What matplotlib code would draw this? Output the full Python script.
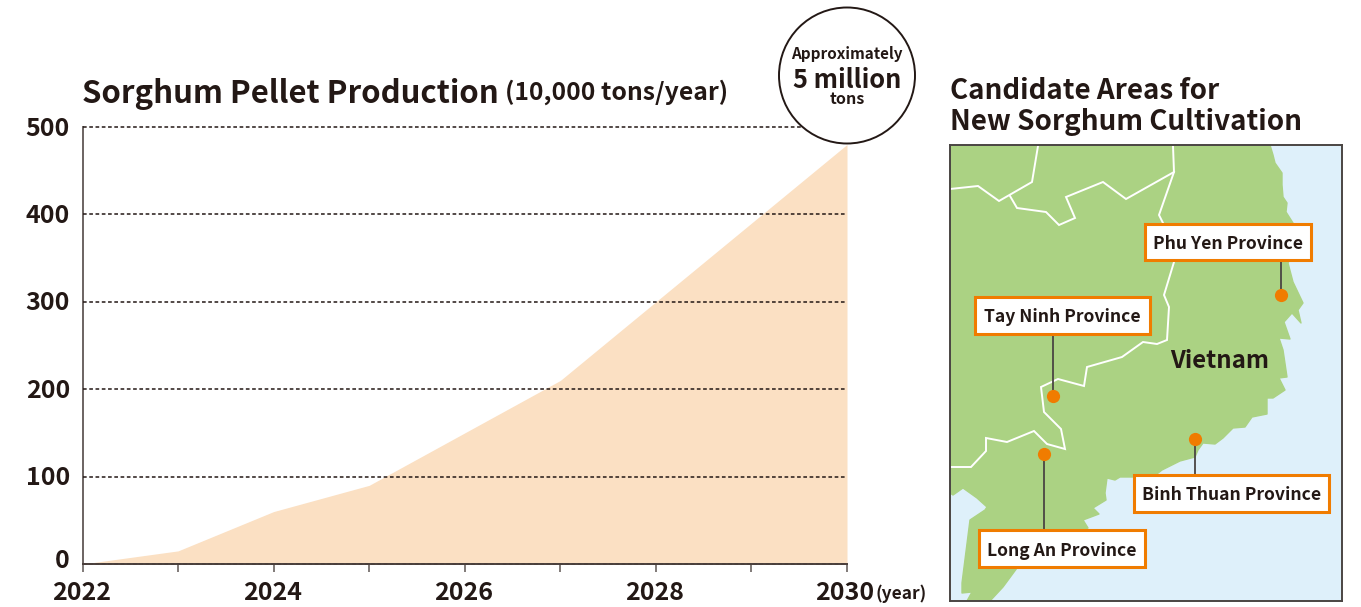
import matplotlib
matplotlib.use("Agg")
import matplotlib.pyplot as plt
from matplotlib.patches import Circle, Rectangle, Polygon
from matplotlib.transforms import ScaledTranslation

FONT = ['Noto Sans CJK JP', 'DejaVu Sans']
plt.rcParams['font.family'] = FONT
plt.rcParams['font.weight'] = 'bold'

INK = '#231815'
AREA = '#FBE0C3'
LAND = '#ABD283'
SEA = '#DEF0FA'
ORANGE = '#F07C00'

# Chart data
years = [2022, 2023, 2024, 2025, 2026, 2027, 2028, 2029, 2030]
production = [0, 15, 60, 90, 150, 210, 300, 390, 480]
y_ticks = [0, 100, 200, 300, 400, 500]
x_ticks = [2022, 2023, 2024, 2025, 2026, 2027, 2028, 2029, 2030]
x_labels = ['2022', '', '2024', '', '2026', '', '2028', '', '2030']

# Map outlines (map pixel coordinates)
land_outline = [
    (950, 145), (1270, 145), (1273, 155), (1275, 163), (1282, 173), (1282, 185), (1283, 197), (1287, 203), (1286, 212),
    (1293, 223), (1296, 245), (1288, 263), (1293, 282), (1303, 303), (1298, 310), (1301, 323),
    (1292, 313), (1284, 322), (1290, 339), (1279, 338), (1283, 350), (1287, 377), (1279, 378), (1285, 390),
    (1273, 398), (1267, 398), (1267, 414), (1252, 417), (1245, 427), (1233, 428), (1223, 438),
    (1215, 444), (1203, 443), (1198, 450), (1195, 457), (1180, 461), (1162, 470), (1153, 477), (1120, 477),
    (1115, 480), (1107, 478), (1105, 493), (1106, 500), (1093, 508), (1099, 514), (1083, 520),
    (1088, 528), (1060, 540), (1017, 568), (1003, 587), (990, 601), (967, 601), (972, 592),
    (962, 593), (962, 583), (970, 520), (985, 510), (987, 507), (977, 498), (963, 488),
    (953, 495), (950, 493),
]
border_a = [(950, 189), (978, 186), (999, 201), (1032, 182), (1038, 146)]
border_b = [(1010, 196), (1017, 208), (1046, 212), (1059, 225), (1075, 218), (1066, 197),
            (1103, 182), (1126, 199), (1174, 172), (1173, 146)]
border_c = [(1174, 172), (1159, 215), (1163, 223), (1174, 262), (1164, 295), (1169, 307),
            (1167, 340), (1157, 344), (1143, 342), (1122, 357), (1087, 367), (1084, 386),
            (1058, 379), (1041, 387), (1044, 412), (1061, 429), (1065, 449), (1047, 444),
            (1034, 431), (1007, 442), (986, 438), (986, 451), (971, 467), (950, 467)]
borders = [border_a, border_b, border_c]

# Provinces
provinces = ['Phu Yen Province', 'Tay Ninh Province', 'Binh Thuan Province', 'Long An Province']
dot_x = [1281, 1053, 1195, 1044]
dot_y = [295, 396, 439, 454]
box_left = [1144.5, 975, 1133.5, 979]
box_right = [1311, 1150, 1329, 1145]
box_top = [223.5, 297, 475, 530]
box_bottom = [260, 334, 512, 567]

W, H = 1361, 607
fig = plt.figure(figsize=(W / 100, H / 100), dpi=100, facecolor='white')


def axes_px(l, t, r, b, **kw):
    return fig.add_axes([l / W, 1 - b / H, (r - l) / W, (b - t) / H], **kw)


def shift(label, dx, dy):
    label.set_transform(label.get_transform() + ScaledTranslation(dx / 100, dy / 100, fig.dpi_scale_trans))


# Main chart
ax = axes_px(82.5, 127, 847, 564)
ax.fill_between(years, production, 0, color=AREA, lw=0, zorder=1)
ax.set_xlim(2022, 2030)
ax.set_ylim(0, 500)
ax.set_yticks(y_ticks)
ax.set_yticklabels([str(v) for v in y_ticks], fontsize=18, fontweight='bold', color=INK)
ax.set_xticks(x_ticks)
ax.set_xticklabels(x_labels, fontsize=18, fontweight='bold', color=INK)
ax.tick_params(axis='y', length=0, pad=9)
ax.tick_params(axis='x', length=6, width=1.2, color='#6b6361', pad=6)
ax.grid(axis='y', color=INK, lw=1.1, ls=(0, (2.4, 1.7)), zorder=2)
for g in ax.get_ygridlines():
    g.set_clip_on(False)
ax.set_axisbelow(False)
for s in ('top', 'right'):
    ax.spines[s].set_visible(False)
ax.spines['left'].set_color('#6b6361')
ax.spines['left'].set_linewidth(1.4)
ax.spines['bottom'].set_color('#4a3f3c')
ax.spines['bottom'].set_linewidth(1.4)
ax.spines['bottom'].set_zorder(5)
ax.patch.set_alpha(0)
fig.canvas.draw()
for i, lab in enumerate(ax.get_yticklabels()):
    shift(lab, 0, 5 if i == 0 else 1)
for i, lab in enumerate(ax.get_xticklabels()):
    shift(lab, -2 if i == len(x_labels) - 1 else -1, 0)

# Map
mp = axes_px(950, 145, 1342, 601)
mp.set_xlim(950, 1342)
mp.set_ylim(601, 145)
mp.set_facecolor(SEA)
mp.set_xticks([])
mp.set_yticks([])
for s in mp.spines.values():
    s.set_color('#4a4543')
    s.set_linewidth(1.4)
    s.set_zorder(10)
mp.add_patch(Polygon(land_outline, closed=True, fc=LAND, ec=LAND, lw=1.0, joinstyle='round', zorder=1))
for line in borders:
    mp.plot([p[0] for p in line], [p[1] for p in line], color='white', lw=1.4, zorder=2,
            solid_joinstyle='miter')
for name, dx, dy, l, r, t, b in zip(provinces, dot_x, dot_y, box_left, box_right, box_top, box_bottom):
    end = b if dy > b else t
    mp.plot([dx, dx], [dy, end], color='#4a4543', lw=1.3, zorder=3)
    mp.plot([dx], [dy], 'o', ms=9.5, color=ORANGE, mew=0, zorder=4)
    mp.add_patch(Rectangle((l, t), r - l, b - t, fc='white', ec=ORANGE, lw=2.2, zorder=5))
    mp.text((l + r) / 2, (t + b) / 2, name, ha='center', va='center_baseline', fontsize=12.6,
            fontweight='bold', color=INK, zorder=6)
mp.text(1219.5, 358, 'Vietnam', ha='center', va='center_baseline', fontsize=17.3,
        fontweight='bold', color=INK, zorder=3)

# Overlay for titles and badge
ov = fig.add_axes([0, 0, 1, 1], zorder=20)
ov.set_xlim(0, W)
ov.set_ylim(H, 0)
ov.axis('off')
ov.text(82.5, 90, 'Sorghum Pellet Production', ha='left', va='center_baseline', fontsize=22.4,
        fontweight='bold', color=INK)
ov.text(505, 90, '(10,000 tons/year)', ha='left', va='center_baseline', fontsize=17.8,
        fontweight='bold', color=INK)
ov.text(950, 88, 'Candidate Areas for', ha='left', va='center_baseline', fontsize=20,
        fontweight='bold', color=INK)
ov.text(950, 119, 'New Sorghum Cultivation', ha='left', va='center_baseline', fontsize=20,
        fontweight='bold', color=INK)
ov.text(876, 592, '(year)', ha='left', va='center_baseline', fontsize=12.5,
        fontweight='bold', color=INK)
ov.add_patch(Circle((847, 75.5), 68, fc='white', ec=INK, lw=1.4, zorder=3))
ov.text(847, 53, 'Approximately', ha='center', va='center_baseline', fontsize=11,
        fontweight='bold', color=INK, zorder=4)
ov.text(847, 77, '5 million', ha='center', va='center_baseline', fontsize=18.2,
        fontweight='bold', color=INK, zorder=4)
ov.text(847, 98, 'tons', ha='center', va='center_baseline', fontsize=11.5,
        fontweight='bold', color=INK, zorder=4)

fig.savefig('out.png', dpi=100, facecolor='white')
